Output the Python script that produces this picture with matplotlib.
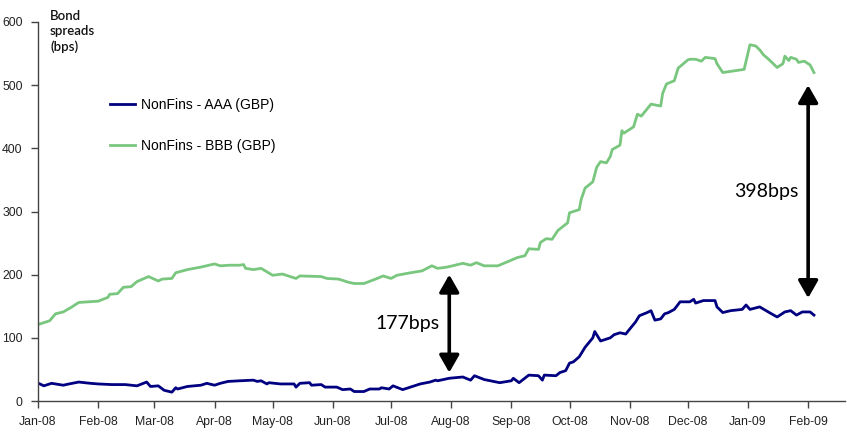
import matplotlib
matplotlib.use("Agg")
import matplotlib.pyplot as plt
import matplotlib.dates as mdates
import pandas as pd

# Non-financial corporate bond spreads over gilts, basis points
bbb_dates = [
    "2008-01-02", "2008-01-07", "2008-01-10", "2008-01-14", "2008-01-18", "2008-01-22",
    "2008-02-01", "2008-02-06", "2008-02-07", "2008-02-11", "2008-02-14", "2008-02-18",
    "2008-02-21", "2008-02-27", "2008-03-03", "2008-03-05", "2008-03-10", "2008-03-12",
    "2008-03-18", "2008-03-25", "2008-04-01", "2008-04-04", "2008-04-09", "2008-04-14",
    "2008-04-16", "2008-04-17", "2008-04-21", "2008-04-25", "2008-05-01", "2008-05-06",
    "2008-05-13", "2008-05-15", "2008-05-26", "2008-05-29", "2008-06-04", "2008-06-09",
    "2008-06-12", "2008-06-17", "2008-06-23", "2008-06-27", "2008-07-01", "2008-07-04",
    "2008-07-11", "2008-07-17", "2008-07-22", "2008-07-25", "2008-07-30", "2008-08-07",
    "2008-08-11", "2008-08-14", "2008-08-18", "2008-08-25", "2008-09-01", "2008-09-04",
    "2008-09-08", "2008-09-10", "2008-09-15", "2008-09-16", "2008-09-19", "2008-09-22",
    "2008-09-25", "2008-09-30", "2008-10-01", "2008-10-06", "2008-10-07", "2008-10-09",
    "2008-10-13", "2008-10-15", "2008-10-17", "2008-10-20", "2008-10-22", "2008-10-23",
    "2008-10-27", "2008-10-28", "2008-10-29", "2008-11-03", "2008-11-05", "2008-11-07",
    "2008-11-12", "2008-11-17", "2008-11-18", "2008-11-20", "2008-11-24", "2008-11-26",
    "2008-12-01", "2008-12-02", "2008-12-05", "2008-12-08", "2008-12-10", "2008-12-15",
    "2008-12-16", "2008-12-19", "2008-12-30", "2009-01-02", "2009-01-05", "2009-01-07",
    "2009-01-09", "2009-01-12", "2009-01-16", "2009-01-19", "2009-01-20", "2009-01-22",
    "2009-01-23", "2009-01-26", "2009-01-27", "2009-01-30", "2009-02-02", "2009-02-04",
]
bbb_values = [
    122, 127, 138, 141, 148, 156,
    158, 164, 169, 170, 180, 181,
    189, 197, 190, 193, 194, 203,
    208, 212, 217, 214, 215, 215,
    216, 210, 208, 210, 199, 201,
    194, 198, 197, 194, 193, 188,
    186, 186, 193, 198, 194, 199,
    203, 206, 214, 210, 212, 218,
    215, 219, 214, 214, 223, 227,
    230, 241, 240, 251, 257, 256,
    270, 282, 298, 303, 319, 337,
    347, 370, 379, 377, 387, 398,
    405, 428, 424, 434, 454, 451,
    470, 467, 487, 502, 507, 527,
    540, 541, 541, 538, 544, 542,
    534, 520, 525, 564, 562, 556,
    548, 540, 528, 534, 546, 539,
    544, 541, 536, 538, 532, 520,
]

aaa_dates = [
    "2008-01-02", "2008-01-04", "2008-01-08", "2008-01-14", "2008-01-17", "2008-01-22",
    "2008-01-28", "2008-02-01", "2008-02-08", "2008-02-15", "2008-02-21", "2008-02-26",
    "2008-02-28", "2008-03-03", "2008-03-06", "2008-03-10", "2008-03-12", "2008-03-13",
    "2008-03-18", "2008-03-25", "2008-03-28", "2008-04-01", "2008-04-04", "2008-04-08",
    "2008-04-14", "2008-04-21", "2008-04-23", "2008-04-25", "2008-04-28", "2008-04-29",
    "2008-05-05", "2008-05-12", "2008-05-13", "2008-05-15", "2008-05-20", "2008-05-21",
    "2008-05-26", "2008-05-28", "2008-06-03", "2008-06-06", "2008-06-10", "2008-06-12",
    "2008-06-17", "2008-06-20", "2008-06-25", "2008-06-26", "2008-06-30", "2008-07-02",
    "2008-07-07", "2008-07-10", "2008-07-16", "2008-07-21", "2008-07-24", "2008-07-25",
    "2008-07-31", "2008-08-07", "2008-08-11", "2008-08-13", "2008-08-18", "2008-08-26",
    "2008-09-01", "2008-09-02", "2008-09-05", "2008-09-10", "2008-09-15", "2008-09-17",
    "2008-09-18", "2008-09-24", "2008-09-26", "2008-09-29", "2008-10-01", "2008-10-03",
    "2008-10-06", "2008-10-09", "2008-10-13", "2008-10-14", "2008-10-15", "2008-10-17",
    "2008-10-20", "2008-10-22", "2008-10-24", "2008-10-27", "2008-10-30", "2008-10-31",
    "2008-11-04", "2008-11-06", "2008-11-10", "2008-11-12", "2008-11-14", "2008-11-17",
    "2008-11-19", "2008-11-21", "2008-11-24", "2008-11-27", "2008-12-02", "2008-12-04",
    "2008-12-05", "2008-12-09", "2008-12-15", "2008-12-16", "2008-12-19", "2008-12-23",
    "2008-12-29", "2008-12-31", "2009-01-02", "2009-01-07", "2009-01-12", "2009-01-16",
    "2009-01-20", "2009-01-23", "2009-01-26", "2009-01-29", "2009-02-02", "2009-02-04",
]
aaa_values = [
    27, 24, 28, 25, 27, 30,
    28, 27, 26, 26, 24, 30,
    23, 24, 17, 14, 21, 19,
    23, 25, 28, 25, 28, 31,
    32, 33, 31, 32, 27, 29,
    27, 27, 22, 28, 29, 25,
    26, 22, 22, 18, 19, 15,
    15, 19, 19, 21, 19, 24,
    18, 21, 27, 30, 33, 32,
    36, 38, 33, 40, 34, 29,
    32, 36, 29, 41, 40, 33,
    41, 40, 45, 48, 60, 62,
    70, 85, 100, 110, 105, 95,
    98, 100, 105, 108, 106, 110,
    125, 135, 140, 143, 128, 130,
    138, 140, 145, 157, 157, 161,
    155, 159, 159, 149, 140, 143,
    145, 152, 145, 149, 140, 133,
    141, 143, 136, 141, 141, 136,
]

series_labels = ["NonFins - AAA (GBP)", "NonFins - BBB (GBP)"]
series_colors = ["#000080", "#79c77f"]

gap_notes = [
    # (label, date of arrow, top, bottom)
    ("177bps", "2008-07-31", 200, 45),
    ("398bps", "2009-02-01", 500, 163),
]

narrow = ["Liberation Sans Narrow", "Liberation Sans", "DejaVu Sans"]
humanist = ["Lato", "DejaVu Sans"]

fig = plt.figure(figsize=(8.47, 4.32), dpi=100)
ax = fig.add_axes([38 / 847, 31 / 432, 807 / 847, 379 / 432])

aaa_x = pd.to_datetime(aaa_dates)
bbb_x = pd.to_datetime(bbb_dates)
l1, = ax.plot(aaa_x, aaa_values, color=series_colors[0], lw=2.0, solid_joinstyle="round")
l2, = ax.plot(bbb_x, bbb_values, color=series_colors[1], lw=2.0, solid_joinstyle="round")

ax.set_ylim(0, 600)
ax.set_yticks(range(0, 601, 100))
ax.set_xlim(pd.Timestamp("2008-01-01"), pd.Timestamp("2009-02-20"))
ax.xaxis.set_major_locator(mdates.MonthLocator())
ax.xaxis.set_major_formatter(mdates.DateFormatter("%b-%y"))

for s in ("top", "right"):
    ax.spines[s].set_visible(False)
for s in ("left", "bottom"):
    ax.spines[s].set_color("#444444")
    ax.spines[s].set_linewidth(1.0)
ax.tick_params(axis="both", direction="out", length=5, width=1.0, color="#444444",
               labelsize=8.8, labelcolor="#222222", pad=6)
for lab in ax.get_xticklabels() + ax.get_yticklabels():
    lab.set_family(narrow)

fig.text(50 / 847, 1 - 10 / 432, "Bond\nspreads\n(bps)", ha="left", va="top",
         fontsize=9.5, family=humanist, weight="semibold", linespacing=1.3, color="#111111")

leg = fig.legend([l1, l2], series_labels, loc="upper left",
                 bbox_to_anchor=(110 / 847, 1 - 98 / 432), frameon=False,
                 handlelength=1.8, handletextpad=0.45, labelspacing=1.95,
                 borderpad=0, borderaxespad=0,
                 prop={"family": narrow, "size": 10})

for label, day, top, bottom in gap_notes:
    d = pd.Timestamp(day)
    ax.annotate("", xy=(d, top), xytext=(d, bottom),
                arrowprops=dict(arrowstyle="<|-|>,head_length=0.7,head_width=0.4",
                                mutation_scale=15, lw=2.6, color="black",
                                shrinkA=0, shrinkB=0))
    ax.annotate(label, xy=(d, (top + bottom) / 2), xytext=(-7, 0),
                textcoords="offset points", ha="right", va="center",
                fontsize=14, family=humanist, color="black")

fig.savefig("out.png", dpi=100)
